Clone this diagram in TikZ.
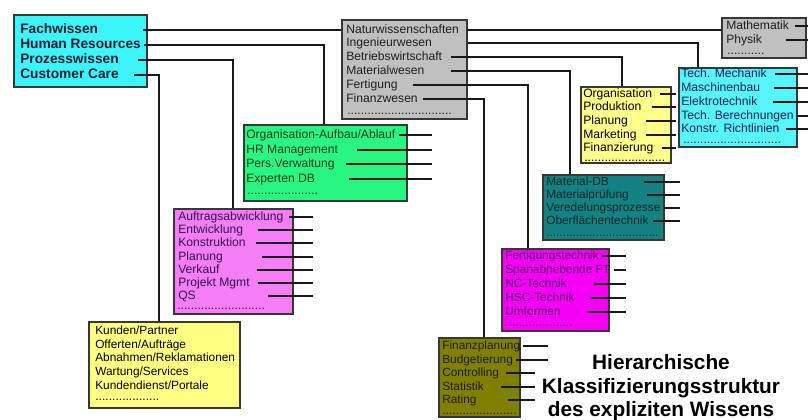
\documentclass[tikz,border=0pt]{standalone}
\usepackage{fontspec}
\setmainfont{Liberation Sans}
\usetikzlibrary{fit}
\definecolor{bordc}{RGB}{55,55,55}
\definecolor{lnc}{RGB}{25,25,25}
\definecolor{cTL}{RGB}{60,245,248}
\definecolor{cGray}{RGB}{192,192,192}
\definecolor{cCyan}{RGB}{85,245,250}
\definecolor{cYelR}{RGB}{255,255,140}
\definecolor{cGreen}{RGB}{40,245,130}
\definecolor{cPink}{RGB}{245,125,245}
\definecolor{cTeal}{RGB}{20,130,130}
\definecolor{cMag}{RGB}{245,0,245}
\definecolor{cYelB}{RGB}{255,255,130}
\definecolor{cOlive}{RGB}{128,128,0}
\definecolor{tTL}{RGB}{20,30,50}
\definecolor{tGray}{RGB}{30,30,30}
\definecolor{tCyan}{RGB}{30,30,90}
\definecolor{tGreen}{RGB}{10,60,30}
\definecolor{tPink}{RGB}{50,20,80}
\definecolor{tTeal}{RGB}{10,40,40}
\definecolor{tMag}{RGB}{90,0,110}
\definecolor{tOlive}{RGB}{30,30,0}
\newcommand\stubline[3]{\draw[conn] ([xshift=#2*0.75pt]#1.east) -- (#1.east -| #3);}
\newcommand\linkdown[4]{\draw[conn] ([xshift=#2*0.75pt]#1.east) -| (#3 |- #4.north);}
\begin{document}
\begin{tikzpicture}[x=0.75pt,y=-0.75pt,
  box/.style={draw=bordc, line width=1.1pt, inner sep=0pt},
  lbl/.style={anchor=west, inner sep=0pt, text height=6.6pt, text depth=1.9pt, font=\fontsize{9.1}{11}\selectfont},
  sml/.style={lbl, font=\fontsize{8.9}{11}\selectfont},
  dts/.style={anchor=west, inner sep=0pt, text height=2pt, text depth=0pt, font=\fontsize{9.1}{11}\selectfont},
  blbl/.style={anchor=west, inner sep=0pt, text height=7.4pt, text depth=2.1pt, font=\fontsize{10.3}{12}\selectfont\bfseries},
  conn/.style={draw=lnc, line width=0.9pt},
  ttl/.style={anchor=base, inner sep=0pt, font=\fontsize{15.6}{18}\selectfont\bfseries}]
\fill[white] (0,0) rectangle (808,419);
\useasboundingbox (0,0) rectangle (808,419);

% end / drop columns
\coordinate (eR) at (808,0);
\coordinate (eY) at (676,0);
\coordinate (eG) at (432,0);
\coordinate (eP) at (313,0);
\coordinate (eT) at (680,0);
\coordinate (eM) at (626,0);
\coordinate (eO1) at (548,0);
\coordinate (eO2) at (535,0);
\coordinate (xIng) at (698,0);
\coordinate (xBet) at (622,0);
\coordinate (xMat) at (570,0);
\coordinate (xFer) at (528,0);
\coordinate (xFin) at (484,0);
\coordinate (xHR) at (324,0);
\coordinate (xPro) at (233,0);
\coordinate (xCus) at (159,0);

% boxes
\node[box, fill=cTL, fit={(14,15)(147,87)}] (tl) {};
\node[box, fill=cGray, fit={(342,20)(467,119)}] (gr) {};
\node[box, fill=cGray, fit={(722,18)(806,58)}] (ma) {};
\node[box, fill=cCyan, fit={(679,68)(797,147)}] (cr) {};
\node[box, fill=cYelR, fit={(581,87)(671,163)}] (yr) {};
\node[box, fill=cGreen, fit={(244,125)(407,201)}] (gn) {};
\node[box, fill=cPink, fit={(174,209)(293,314)}] (pk) {};
\node[box, fill=cTeal, fit={(543,175)(664,240)}] (tc) {};
\node[box, fill=cMag, fit={(502,249)(609,331)}] (mg) {};
\node[box, fill=cYelB, fit={(89,322)(240,408)}] (yb) {};
\node[box, fill=cOlive, fit={(439,338)(520,417)}] (ol) {};

% top-left box
\node[blbl, text=tTL] (f1) at (20,30) {Fachwissen};
\node[blbl, text=tTL] (f2) at (20,45) {Human Resources};
\node[blbl, text=tTL] (f3) at (20,60) {Prozesswissen};
\node[blbl, text=tTL] (f4) at (20,75) {Customer Care};

% gray centre box
\node[lbl, text=tGray] (g1) at (346,30) {Naturwissenschaften};
\node[lbl, text=tGray] (g2) at (346,43) {Ingenieurwesen};
\node[lbl, text=tGray] (g3) at (346,57) {Betriebswirtschaft};
\node[lbl, text=tGray] (g4) at (346,71) {Materialwesen};
\node[lbl, text=tGray] (g5) at (346,85) {Fertigung};
\node[lbl, text=tGray] (g6) at (346,99) {Finanzwesen};
\node[dts, text=tGray] (g7) at (347,113) {...............................};

% Mathematik box
\node[lbl, text=tGray] (m1) at (726,26) {Mathematik};
\node[lbl, text=tGray] (m2) at (726,40) {Physik};
\node[dts, text=tGray] (m3) at (727,53) {...........};

% cyan right box
\node[lbl, text=tCyan] (r1) at (681,74) {Tech. Mechanik};
\node[lbl, text=tCyan] (r2) at (681,88) {Maschinenbau};
\node[lbl, text=tCyan] (r3) at (681,102) {Elektrotechnik};
\node[lbl, text=tCyan] (r4) at (681,116) {Tech. Berechnungen};
\node[lbl, text=tCyan] (r5) at (681,129) {Konstr. Richtlinien};
\node[dts, text=tCyan] (r6) at (683,142) {.............................};

% yellow right box
\node[lbl, text=black] (y1) at (583,94) {Organisation};
\node[lbl, text=black] (y2) at (583,107) {Produktion};
\node[lbl, text=black] (y3) at (583,121) {Planung};
\node[lbl, text=black] (y4) at (583,135) {Marketing};
\node[lbl, text=black] (y5) at (583,148) {Finanzierung};
\node[dts, text=black] (y6) at (584,160) {........................};

% green box
\node[lbl, text=tGreen] (n1) at (246,135) {Organisation-Aufbau/Ablauf};
\node[lbl, text=tGreen] (n2) at (246,150) {HR Management};
\node[lbl, text=tGreen] (n3) at (246,164) {Pers.Verwaltung};
\node[lbl, text=tGreen] (n4) at (246,179) {Experten DB};
\node[dts, text=tGreen] (n5) at (247,193) {.....................};

% pink box
\node[lbl, text=tPink] (p1) at (178,217) {Auftragsabwicklung};
\node[lbl, text=tPink] (p2) at (178,230) {Entwicklung};
\node[lbl, text=tPink] (p3) at (178,243) {Konstruktion};
\node[lbl, text=tPink] (p4) at (178,257) {Planung};
\node[lbl, text=tPink] (p5) at (178,270) {Verkauf};
\node[lbl, text=tPink] (p6) at (178,283) {Projekt Mgmt};
\node[lbl, text=tPink] (p7) at (178,296) {QS};
\node[dts, text=tPink] (p8) at (177,308) {..........................};

% teal box
\node[sml, text=tTeal] (t1) at (546,182) {Material-DB};
\node[sml, text=tTeal] (t2) at (546,195) {Materialprüfung};
\node[sml, text=tTeal] (t3) at (546,208) {Veredelungsprozesse};
\node[sml, text=tTeal] (t4) at (546,221) {Oberflächentechnik};
\node[dts, text=tTeal, font=\fontsize{8.9}{11}\selectfont] (t5) at (546,235) {..................................};

% magenta box
\node[sml, text=tMag] (q1) at (505,256) {Fertigungstechnik};
\node[sml, text=tMag] (q2) at (505,270) {Spanabhebende FT};
\node[sml, text=tMag] (q3) at (505,284) {NC-Technik};
\node[sml, text=tMag] (q4) at (505,298) {HSC-Technik};
\node[sml, text=tMag] (q5) at (505,312) {Umformen};
\node[dts, text=tMag] (q6) at (505,325) {....................};

% yellow bottom box
\node[sml, text=black] (k1) at (95,331) {Kunden/Partner};
\node[sml, text=black] (k2) at (95,345) {Offerten/Aufträge};
\node[sml, text=black] (k3) at (95,358) {Abnahmen/Reklamationen};
\node[sml, text=black] (k4) at (95,372) {Wartung/Services};
\node[sml, text=black] (k5) at (95,386) {Kundendienst/Portale};
\node[dts, text=black] (k6) at (95,399) {...................};

% olive box
\node[sml, text=tOlive] (o1) at (442,346) {Finanzplanung};
\node[sml, text=tOlive] (o2) at (442,360) {Budgetierung};
\node[sml, text=tOlive] (o3) at (442,373) {Controlling};
\node[sml, text=tOlive] (o4) at (442,387) {Statistik};
\node[sml, text=tOlive] (o5) at (442,400) {Rating};
\node[dts, text=tOlive] (o6) at (442,413.5) {......................};

% title
\node[ttl] (h1) at (661,369) {Hierarchische};
\node[ttl] (h2) at (661,393) {Klassifizierungsstruktur};
\node[ttl] (h3) at (661,416) {des expliziten Wissens};

% main connectors
\draw[conn] ([xshift=45*0.75pt]f1.east) -- (f1.east -| gr.west);
\linkdown{f2}{3}{xHR}{gn}
\linkdown{f3}{19}{xPro}{pk}
\linkdown{f4}{15}{xCus}{yb}
\draw[conn] ([xshift=8*0.75pt]g1.east) -- (g1.east -| ma.west);
\linkdown{g2}{36}{xIng}{cr}
\linkdown{g3}{9}{xBet}{yr}
\linkdown{g4}{26}{xMat}{tc}
\linkdown{g5}{15}{xFer}{mg}
\linkdown{g6}{5}{xFin}{ol}

% stubs
\stubline{m1}{6}{eR}
\stubline{m2}{24}{eR}
\stubline{r1}{8}{eR}
\stubline{r2}{14}{eR}
\stubline{r3}{15}{eR}
\stubline{r4}{4}{eR}
\stubline{r5}{6}{eR}
\stubline{y1}{8}{eY}
\stubline{y2}{10}{eY}
\stubline{y3}{18}{eY}
\stubline{y4}{9}{eY}
\stubline{y5}{8}{eY}
\stubline{n1}{3}{eG}
\stubline{n2}{19}{eG}
\stubline{n3}{11}{eG}
\stubline{n4}{34}{eG}
\stubline{p1}{5}{eP}
\stubline{p2}{15}{eP}
\stubline{p3}{10}{eP}
\stubline{p4}{39}{eP}
\stubline{p5}{37}{eP}
\stubline{p6}{8}{eP}
\stubline{p7}{72}{eP}
\stubline{t1}{35}{eT}
\stubline{t2}{18}{eT}
\stubline{t3}{3}{eT}
\stubline{t4}{4}{eT}
\stubline{q1}{3}{eM}
\stubline{q2}{4}{eM}
\stubline{q3}{27}{eM}
\stubline{q4}{15}{eM}
\stubline{q5}{27}{eM}
\stubline{o1}{3}{eO1}
\stubline{o2}{3}{eO1}
\stubline{o3}{7}{eO2}
\stubline{o4}{17}{eO2}
\stubline{o5}{31}{eO2}
\end{tikzpicture}
\end{document}
